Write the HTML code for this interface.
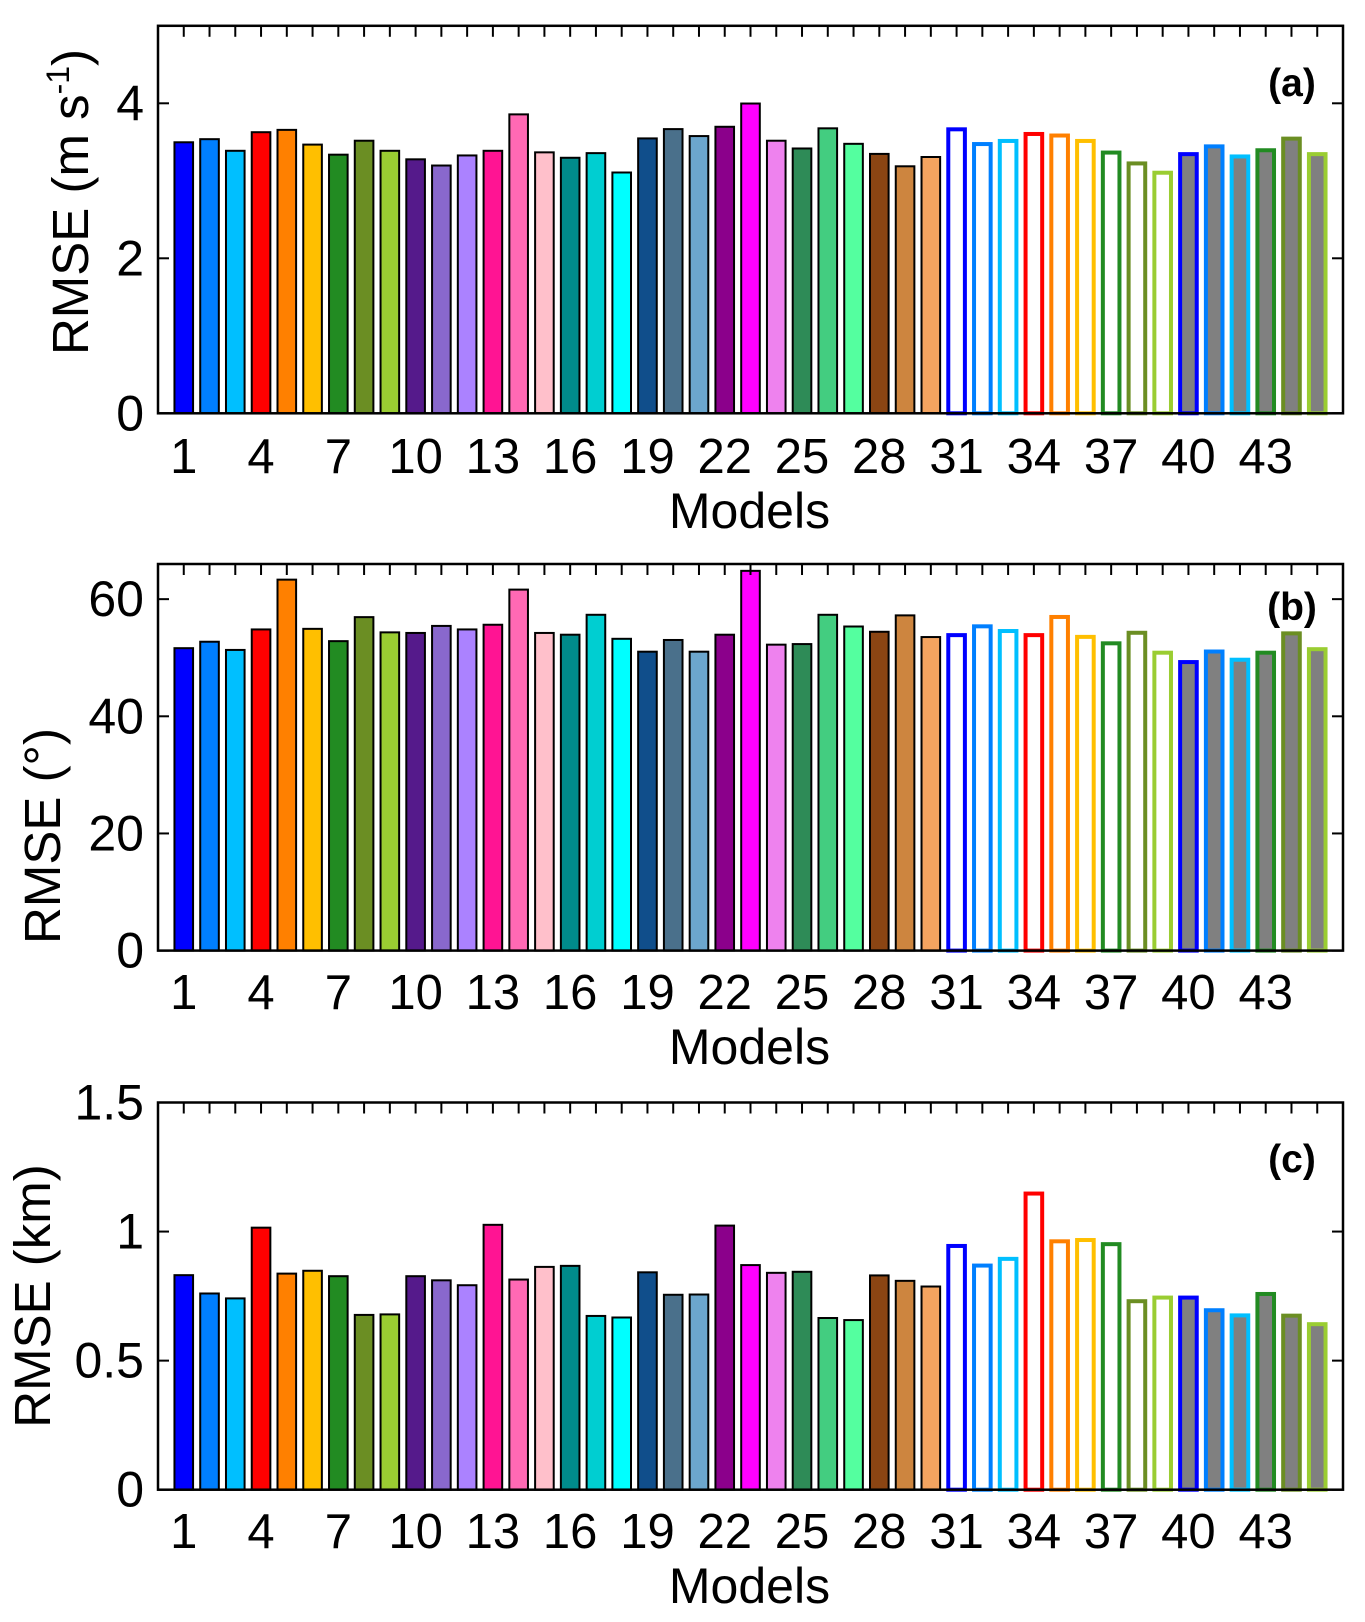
<!DOCTYPE html>
<html><head><meta charset="utf-8"><style>
html,body{margin:0;padding:0;background:#fff;}
svg{display:block;}
text{font-family:"Liberation Sans",Arial,sans-serif;fill:#000;}
</style></head>
<body>
<svg id="chart" width="1365" height="1622" viewBox="0 0 1365 1622" xmlns="http://www.w3.org/2000/svg"></svg>
<script>
const models = Array.from({length:45},(_,i)=>i+1);
const rmseSpeed = [3.51,3.55,3.40,3.64,3.67,3.48,3.35,3.53,3.40,3.29,3.21,3.34,3.40,3.87,3.38,3.31,3.37,3.12,3.56,3.68,3.59,3.71,4.01,3.53,3.43,3.69,3.49,3.36,3.20,3.32,3.69,3.50,3.54,3.63,3.61,3.54,3.39,3.25,3.13,3.37,3.47,3.34,3.42,3.57,3.37];
const rmseDir = [51.8,52.9,51.5,55.0,63.5,55.1,53.0,57.1,54.5,54.4,55.6,55.0,55.8,61.8,54.4,54.1,57.5,53.4,51.2,53.2,51.2,54.1,65.0,52.4,52.5,57.5,55.5,54.6,57.4,53.7,54.2,55.7,54.9,54.2,57.3,53.9,52.8,54.6,51.2,49.6,51.4,50.0,51.2,54.5,51.8];
const rmseHeight = [0.835,0.764,0.745,1.019,0.841,0.852,0.831,0.681,0.683,0.831,0.815,0.796,1.030,0.818,0.867,0.871,0.677,0.671,0.846,0.759,0.760,1.027,0.874,0.844,0.848,0.669,0.661,0.834,0.813,0.791,0.952,0.876,0.902,1.155,0.970,0.975,0.959,0.738,0.752,0.752,0.703,0.683,0.766,0.682,0.649];
const xTickLabels = ["1","4","7","10","13","16","19","22","25","28","31","34","37","40","43"];
const fills = ["#0000FF","#007FFF","#00BFFF","#FF0000","#FF8000","#FFBF00","#228B22","#6B8E23","#9ACD32","#551A8B","#8968CD","#AB82FF","#FF1493","#FF69B4","#FFC0CB","#008B8B","#00CED1","#00FFFF","#104E8B","#4A708B","#6CA6CD","#8B008B","#FF00FF","#EE82EE","#2E8B57","#43CD80","#54FF9F","#8B4513","#CD853F","#F4A460",
 "#FFFFFF","#FFFFFF","#FFFFFF","#FFFFFF","#FFFFFF","#FFFFFF","#FFFFFF","#FFFFFF","#FFFFFF","#808080","#808080","#808080","#808080","#808080","#808080"];
const edges = ["#000","#000","#000","#000","#000","#000","#000","#000","#000","#000","#000","#000","#000","#000","#000","#000","#000","#000","#000","#000","#000","#000","#000","#000","#000","#000","#000","#000","#000","#000",
 "#0000FF","#007FFF","#00BFFF","#FF0000","#FF8000","#FFBF00","#228B22","#6B8E23","#9ACD32","#0000FF","#007FFF","#00BFFF","#228B22","#6B8E23","#9ACD32"];
const yTicksA = [0,2,4], yTicksB = [0,20,40,60], yTicksC = [0,0.5,1,1.5];
const yTickTextC = ["0","0.5","1","1.5"];

const NS="http://www.w3.org/2000/svg";
const svg=document.getElementById('chart');
function mk(tag,attrs,parent){const e=document.createElementNS(NS,tag);for(const k in attrs)e.setAttribute(k,attrs[k]);(parent||svg).appendChild(e);return e;}

const X0=158, X1=1343;
function xScale(v){return X0+(X1-X0)*v/46;}

function panel(id,top,bottom,ymax,values,yticks,ytext,label,labelY,ylabel,ylabelX,ylabelY,tickBase){
  const g=mk('g',{});
  
  
  const ys=v=>bottom-(bottom-top)*v/ymax;
  const bw=(X1-X0)/46*0.8;
  values.forEach((v,i)=>{
    const cx=xScale(models[i]);
    const colored=i>=30;
    const sw=colored?4:2;
    const r=mk('rect',{x:cx-bw/2+sw/2,y:ys(v)+sw/2,width:bw-sw,height:bottom-ys(v)-sw/2,fill:fills[i],stroke:edges[i],'stroke-width':sw},g);
    
    
  });
  const ax=mk('rect',{x:X0,y:top,width:X1-X0,height:bottom-top,fill:'none',stroke:'#000','stroke-width':2.5},g);
  
  
  models.forEach(m=>{mk('line',{x1:xScale(m),x2:xScale(m),y1:top,y2:top+11,stroke:'#000','stroke-width':2},g);});
  yticks.forEach((t,i)=>{
    const y=ys(t);
    mk('line',{x1:X0,x2:X0+11,y1:y,y2:y,stroke:'#000','stroke-width':2},g);
    mk('line',{x1:X1-11,x2:X1,y1:y,y2:y,stroke:'#000','stroke-width':2},g);
    const tx=mk('text',{x:144,y:y+17,'font-size':50,'text-anchor':'end'},g);
    tx.textContent=ytext[i];
    
    
  });
  xTickLabels.forEach(l=>{
    const tx=mk('text',{x:xScale(+l),y:tickBase,'font-size':49,'text-anchor':'middle'},g);
    tx.textContent=l;
    
    
  });
  const mt=mk('text',{x:(X0+X1)/2-1,y:tickBase+55,'font-size':50,'text-anchor':'middle'},g);
  mt.textContent='Models';
  
  
  const pl=mk('text',{x:1292,y:labelY,'font-size':39,'font-weight':'bold','text-anchor':'middle'},g);
  pl.textContent=label;
  
  
  const yl=mk('text',{x:0,y:0,'font-size':51,'text-anchor':'middle',transform:'translate('+ylabelX+','+ylabelY+') rotate(-90)'},g);
  yl.innerHTML=ylabel;
  
  
}
panel('a',25.8,413.3,5,rmseSpeed,yTicksA,yTicksA.map(String),'(a)',96,'RMSE (m s<tspan dy="-19" font-size="32">-1</tspan><tspan dy="19">)</tspan>',88,202,473);
panel('b',564,950.6,66,rmseDir,yTicksB,yTicksB.map(String),'(b)',620,'RMSE (°)',60,836,1009);
panel('c',1102.5,1489.7,1.5,rmseHeight,yTicksC,yTickTextC,'(c)',1172,'RMSE (km)',50,1296,1548);
</script>
</body></html>
